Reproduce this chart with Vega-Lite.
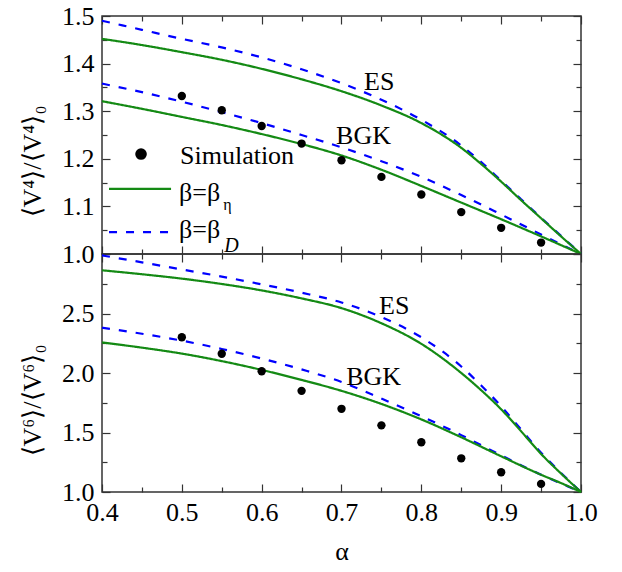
{
  "$schema": "https://vega.github.io/schema/vega-lite/v6.json",
  "padding": {"left": 18, "top": 2, "right": 5, "bottom": 5},
  "background": "white",
  "spacing": 0,
  "bounds": "flush",
  "config": {
    "view": {"stroke": "#333333", "strokeWidth": 1.5},
    "axis": {
      "labelFont": "Liberation Serif",
      "labelFontSize": 26,
      "labelColor": "black",
      "titleFont": "Liberation Serif",
      "titleFontSize": 26,
      "titleFontWeight": "normal",
      "titleColor": "black",
      "tickColor": "#333333",
      "tickWidth": 1.2,
      "domain": false,
      "grid": false,
      "labelOverlap": false,
      "labelFlush": false
    }
  },
  "datasets": {
    "curves_top": [
      {"a":0.4,"v":1.490,"model":"ES","beta":"D"},{"a":0.45,"v":1.471,"model":"ES","beta":"D"},{"a":0.5,"v":1.452,"model":"ES","beta":"D"},{"a":0.55,"v":1.434,"model":"ES","beta":"D"},{"a":0.6,"v":1.413,"model":"ES","beta":"D"},{"a":0.65,"v":1.388,"model":"ES","beta":"D"},{"a":0.7,"v":1.359,"model":"ES","beta":"D"},{"a":0.75,"v":1.324,"model":"ES","beta":"D"},{"a":0.8,"v":1.282,"model":"ES","beta":"D"},{"a":0.85,"v":1.228,"model":"ES","beta":"D"},{"a":0.875,"v":1.193,"model":"ES","beta":"D"},{"a":0.9,"v":1.154,"model":"ES","beta":"D"},{"a":0.925,"v":1.115,"model":"ES","beta":"D"},{"a":0.95,"v":1.076,"model":"ES","beta":"D"},{"a":0.975,"v":1.038,"model":"ES","beta":"D"},{"a":1.0,"v":1.0,"model":"ES","beta":"D"},
      {"a":0.4,"v":1.358,"model":"BGK","beta":"D"},{"a":0.45,"v":1.340,"model":"BGK","beta":"D"},{"a":0.5,"v":1.320,"model":"BGK","beta":"D"},{"a":0.55,"v":1.298,"model":"BGK","beta":"D"},{"a":0.6,"v":1.275,"model":"BGK","beta":"D"},{"a":0.65,"v":1.250,"model":"BGK","beta":"D"},{"a":0.7,"v":1.224,"model":"BGK","beta":"D"},{"a":0.75,"v":1.195,"model":"BGK","beta":"D"},{"a":0.8,"v":1.162,"model":"BGK","beta":"D"},{"a":0.85,"v":1.124,"model":"BGK","beta":"D"},{"a":0.9,"v":1.083,"model":"BGK","beta":"D"},{"a":0.95,"v":1.041,"model":"BGK","beta":"D"},{"a":1.0,"v":1.0,"model":"BGK","beta":"D"},
      {"a":0.4,"v":1.452,"model":"ES","beta":"eta"},{"a":0.45,"v":1.439,"model":"ES","beta":"eta"},{"a":0.5,"v":1.424,"model":"ES","beta":"eta"},{"a":0.55,"v":1.408,"model":"ES","beta":"eta"},{"a":0.6,"v":1.389,"model":"ES","beta":"eta"},{"a":0.65,"v":1.367,"model":"ES","beta":"eta"},{"a":0.7,"v":1.342,"model":"ES","beta":"eta"},{"a":0.75,"v":1.312,"model":"ES","beta":"eta"},{"a":0.8,"v":1.275,"model":"ES","beta":"eta"},{"a":0.85,"v":1.223,"model":"ES","beta":"eta"},{"a":0.875,"v":1.189,"model":"ES","beta":"eta"},{"a":0.9,"v":1.152,"model":"ES","beta":"eta"},{"a":0.925,"v":1.113,"model":"ES","beta":"eta"},{"a":0.95,"v":1.075,"model":"ES","beta":"eta"},{"a":0.975,"v":1.037,"model":"ES","beta":"eta"},{"a":1.0,"v":1.0,"model":"ES","beta":"eta"},
      {"a":0.4,"v":1.321,"model":"BGK","beta":"eta"},{"a":0.45,"v":1.305,"model":"BGK","beta":"eta"},{"a":0.5,"v":1.288,"model":"BGK","beta":"eta"},{"a":0.55,"v":1.271,"model":"BGK","beta":"eta"},{"a":0.6,"v":1.252,"model":"BGK","beta":"eta"},{"a":0.65,"v":1.231,"model":"BGK","beta":"eta"},{"a":0.7,"v":1.207,"model":"BGK","beta":"eta"},{"a":0.75,"v":1.177,"model":"BGK","beta":"eta"},{"a":0.8,"v":1.143,"model":"BGK","beta":"eta"},{"a":0.85,"v":1.108,"model":"BGK","beta":"eta"},{"a":0.9,"v":1.073,"model":"BGK","beta":"eta"},{"a":0.95,"v":1.037,"model":"BGK","beta":"eta"},{"a":1.0,"v":1.0,"model":"BGK","beta":"eta"}
    ],
    "curves_bot": [
      {"a":0.4,"v":2.988,"model":"ES","beta":"D"},{"a":0.45,"v":2.930,"model":"ES","beta":"D"},{"a":0.5,"v":2.870,"model":"ES","beta":"D"},{"a":0.55,"v":2.810,"model":"ES","beta":"D"},{"a":0.6,"v":2.745,"model":"ES","beta":"D"},{"a":0.65,"v":2.675,"model":"ES","beta":"D"},{"a":0.7,"v":2.593,"model":"ES","beta":"D"},{"a":0.75,"v":2.470,"model":"ES","beta":"D"},{"a":0.8,"v":2.300,"model":"ES","beta":"D"},{"a":0.85,"v":2.055,"model":"ES","beta":"D"},{"a":0.875,"v":1.895,"model":"ES","beta":"D"},{"a":0.9,"v":1.720,"model":"ES","beta":"D"},{"a":0.925,"v":1.525,"model":"ES","beta":"D"},{"a":0.95,"v":1.330,"model":"ES","beta":"D"},{"a":0.975,"v":1.160,"model":"ES","beta":"D"},{"a":1.0,"v":1.0,"model":"ES","beta":"D"},
      {"a":0.4,"v":2.380,"model":"BGK","beta":"D"},{"a":0.45,"v":2.330,"model":"BGK","beta":"D"},{"a":0.5,"v":2.272,"model":"BGK","beta":"D"},{"a":0.55,"v":2.202,"model":"BGK","beta":"D"},{"a":0.6,"v":2.122,"model":"BGK","beta":"D"},{"a":0.65,"v":2.030,"model":"BGK","beta":"D"},{"a":0.7,"v":1.925,"model":"BGK","beta":"D"},{"a":0.75,"v":1.785,"model":"BGK","beta":"D"},{"a":0.8,"v":1.637,"model":"BGK","beta":"D"},{"a":0.85,"v":1.478,"model":"BGK","beta":"D"},{"a":0.9,"v":1.308,"model":"BGK","beta":"D"},{"a":0.95,"v":1.145,"model":"BGK","beta":"D"},{"a":0.975,"v":1.072,"model":"BGK","beta":"D"},{"a":1.0,"v":1.0,"model":"BGK","beta":"D"},
      {"a":0.4,"v":2.863,"model":"ES","beta":"eta"},{"a":0.45,"v":2.830,"model":"ES","beta":"eta"},{"a":0.5,"v":2.793,"model":"ES","beta":"eta"},{"a":0.55,"v":2.748,"model":"ES","beta":"eta"},{"a":0.6,"v":2.694,"model":"ES","beta":"eta"},{"a":0.65,"v":2.627,"model":"ES","beta":"eta"},{"a":0.7,"v":2.545,"model":"ES","beta":"eta"},{"a":0.75,"v":2.418,"model":"ES","beta":"eta"},{"a":0.8,"v":2.245,"model":"ES","beta":"eta"},{"a":0.85,"v":2.000,"model":"ES","beta":"eta"},{"a":0.875,"v":1.855,"model":"ES","beta":"eta"},{"a":0.9,"v":1.695,"model":"ES","beta":"eta"},{"a":0.925,"v":1.510,"model":"ES","beta":"eta"},{"a":0.95,"v":1.320,"model":"ES","beta":"eta"},{"a":0.975,"v":1.155,"model":"ES","beta":"eta"},{"a":1.0,"v":1.0,"model":"ES","beta":"eta"},
      {"a":0.4,"v":2.257,"model":"BGK","beta":"eta"},{"a":0.45,"v":2.213,"model":"BGK","beta":"eta"},{"a":0.5,"v":2.163,"model":"BGK","beta":"eta"},{"a":0.55,"v":2.100,"model":"BGK","beta":"eta"},{"a":0.6,"v":2.026,"model":"BGK","beta":"eta"},{"a":0.65,"v":1.942,"model":"BGK","beta":"eta"},{"a":0.7,"v":1.850,"model":"BGK","beta":"eta"},{"a":0.75,"v":1.740,"model":"BGK","beta":"eta"},{"a":0.8,"v":1.610,"model":"BGK","beta":"eta"},{"a":0.85,"v":1.460,"model":"BGK","beta":"eta"},{"a":0.9,"v":1.300,"model":"BGK","beta":"eta"},{"a":0.95,"v":1.145,"model":"BGK","beta":"eta"},{"a":0.975,"v":1.075,"model":"BGK","beta":"eta"},{"a":1.0,"v":1.0,"model":"BGK","beta":"eta"}
    ],
    "sim_top": [
      {"a":0.5,"v":1.332},{"a":0.55,"v":1.302},{"a":0.6,"v":1.269},{"a":0.65,"v":1.232},{"a":0.7,"v":1.197},{"a":0.75,"v":1.162},{"a":0.8,"v":1.125},{"a":0.85,"v":1.088},{"a":0.9,"v":1.055},{"a":0.95,"v":1.024}
    ],
    "sim_bot": [
      {"a":0.5,"v":2.300},{"a":0.55,"v":2.162},{"a":0.6,"v":2.015},{"a":0.65,"v":1.850},{"a":0.7,"v":1.699},{"a":0.75,"v":1.560},{"a":0.8,"v":1.418},{"a":0.85,"v":1.283},{"a":0.9,"v":1.166},{"a":0.95,"v":1.068}
    ],
    "labels_top": [
      {"a":0.7283,"v":1.344,"t":"ES"},{"a":0.6932,"v":1.232,"t":"BGK"}
    ],
    "labels_bot": [
      {"a":0.7471,"v":2.50,"t":"ES"},{"a":0.7058,"v":1.90,"t":"BGK"}
    ],
    "legend_text": [
      {"a":0.4977,"v":1.190,"t":"Simulation"},{"a":0.4965,"v":1.112,"t":"β=β"},{"a":0.4965,"v":1.033,"t":"β=β"}
    ],
    "legend_eta": [{"a":0.552,"v":1.093,"t":"η"}],
    "legend_d": [{"a":0.553,"v":1.004,"t":"D"}],
    "legend_sym": [{"a":0.4489,"v":1.210}],
    "legend_lines": [
      {"a":0.4088,"a2":0.4865,"v":1.137,"beta":"eta"},{"a":0.4088,"a2":0.4865,"v":1.046,"beta":"D"}
    ]
  },
  "vconcat": [
    {
      "width": 479,
      "height": 238,
      "resolve": {"axis": {"x": "independent", "y": "independent"}},
      "layer": [
        {
          "data": {"name": "curves_top"},
          "mark": {"type": "line", "strokeWidth": 2.2, "interpolate": "monotone"},
          "encoding": {
            "x": {"field": "a", "type": "quantitative", "scale": {"domain": [0.4, 1.0], "nice": false, "zero": false},
              "axis": {"orient": "bottom", "title": null, "labels": false,
                "values": [0.4,0.45,0.5,0.55,0.6,0.65,0.7,0.75,0.8,0.85,0.9,0.95,1.0],
                "tickSize": {"condition": {"test": "abs(datum.value*10-round(datum.value*10))<0.001", "value": -8}, "value": -5}}},
            "y": {"field": "v", "type": "quantitative", "scale": {"domain": [1.0, 1.5], "nice": false, "zero": false},
              "axis": {"orient": "left", "title": "⟨V⁴⟩/⟨V⁴⟩₀", "titleY": 145, "titlePadding": 16,
                "values": [1.0,1.05,1.1,1.15,1.2,1.25,1.3,1.35,1.4,1.45,1.5],
                "labelExpr": "abs(datum.value*10-round(datum.value*10))<0.001 ? format(datum.value, '.1f') : ''",
                "labelPadding": 16,
                "tickSize": {"condition": {"test": "abs(datum.value*10-round(datum.value*10))<0.001", "value": -8}, "value": -5}}},
            "color": {"field": "beta", "type": "nominal", "scale": {"domain": ["eta", "D"], "range": ["#148a14", "#0000ff"]}, "legend": null},
            "strokeDash": {"field": "beta", "type": "nominal", "scale": {"domain": ["eta", "D"], "range": [[1, 0], [8, 9]]}, "legend": null},
            "detail": {"field": "model"}
          }
        },
        {
          "data": {"name": "sim_top"},
          "mark": {"type": "circle", "size": 70, "color": "black", "opacity": 1},
          "encoding": {
            "x": {"field": "a", "type": "quantitative",
              "axis": {"orient": "top", "title": null, "labels": false,
                "values": [0.4,0.45,0.5,0.55,0.6,0.65,0.7,0.75,0.8,0.85,0.9,0.95,1.0],
                "tickSize": {"condition": {"test": "abs(datum.value*10-round(datum.value*10))<0.001", "value": -8}, "value": -5}}},
            "y": {"field": "v", "type": "quantitative",
              "axis": {"orient": "right", "title": null, "labels": false,
                "values": [1.0,1.05,1.1,1.15,1.2,1.25,1.3,1.35,1.4,1.45,1.5],
                "tickSize": {"condition": {"test": "abs(datum.value*10-round(datum.value*10))<0.001", "value": -8}, "value": -5}}}
          }
        },
        {
          "data": {"name": "labels_top"},
          "mark": {"type": "text", "font": "Liberation Serif", "fontSize": 26, "align": "left", "baseline": "alphabetic", "color": "black"},
          "encoding": {
            "x": {"field": "a", "type": "quantitative", "axis": null},
            "y": {"field": "v", "type": "quantitative", "axis": null},
            "text": {"field": "t"}
          }
        },
        {
          "data": {"name": "legend_text"},
          "mark": {"type": "text", "font": "Liberation Serif", "fontSize": 26, "align": "left", "baseline": "alphabetic", "color": "black"},
          "encoding": {
            "x": {"field": "a", "type": "quantitative", "axis": null},
            "y": {"field": "v", "type": "quantitative", "axis": null},
            "text": {"field": "t"}
          }
        },
        {
          "data": {"name": "legend_eta"},
          "mark": {"type": "text", "font": "Liberation Serif", "fontSize": 16, "align": "left", "baseline": "alphabetic", "color": "black"},
          "encoding": {
            "x": {"field": "a", "type": "quantitative", "axis": null},
            "y": {"field": "v", "type": "quantitative", "axis": null},
            "text": {"field": "t"}
          }
        },
        {
          "data": {"name": "legend_d"},
          "mark": {"type": "text", "font": "Liberation Serif", "fontSize": 20, "fontStyle": "italic", "align": "left", "baseline": "alphabetic", "color": "black"},
          "encoding": {
            "x": {"field": "a", "type": "quantitative", "axis": null},
            "y": {"field": "v", "type": "quantitative", "axis": null},
            "text": {"field": "t"}
          }
        },
        {
          "data": {"name": "legend_sym"},
          "mark": {"type": "circle", "size": 135, "color": "black", "opacity": 1},
          "encoding": {
            "x": {"field": "a", "type": "quantitative", "axis": null},
            "y": {"field": "v", "type": "quantitative", "axis": null}
          }
        },
        {
          "data": {"name": "legend_lines"},
          "mark": {"type": "rule", "strokeWidth": 2.2},
          "encoding": {
            "x": {"field": "a", "type": "quantitative", "axis": null},
            "x2": {"field": "a2"},
            "y": {"field": "v", "type": "quantitative", "axis": null},
            "color": {"field": "beta", "type": "nominal", "legend": null},
            "strokeDash": {"field": "beta", "type": "nominal", "legend": null}
          }
        }
      ]
    },
    {
      "width": 479,
      "height": 238,
      "resolve": {"axis": {"x": "independent", "y": "independent"}},
      "layer": [
        {
          "data": {"name": "curves_bot"},
          "mark": {"type": "line", "strokeWidth": 2.2, "interpolate": "monotone"},
          "encoding": {
            "x": {"field": "a", "type": "quantitative", "scale": {"domain": [0.4, 1.0], "nice": false, "zero": false},
              "axis": {"orient": "bottom", "title": "α", "titlePadding": 10,
                "values": [0.4,0.45,0.5,0.55,0.6,0.65,0.7,0.75,0.8,0.85,0.9,0.95,1.0],
                "labelExpr": "abs(datum.value*10-round(datum.value*10))<0.001 ? format(datum.value, '.1f') : ''",
                "labelPadding": 15,
                "tickSize": {"condition": {"test": "abs(datum.value*10-round(datum.value*10))<0.001", "value": -8}, "value": -5}}},
            "y": {"field": "v", "type": "quantitative", "scale": {"domain": [1.0, 3.0], "nice": false, "zero": false},
              "axis": {"orient": "left", "title": "⟨V⁶⟩/⟨V⁶⟩₀", "titleY": 146, "titlePadding": 16,
                "values": [1.0,1.25,1.5,1.75,2.0,2.25,2.5,2.75,3.0],
                "labelExpr": "abs(datum.value*2-round(datum.value*2))<0.001 && datum.value<2.9 ? format(datum.value, '.1f') : ''",
                "labelPadding": 16,
                "tickSize": {"condition": {"test": "abs(datum.value*2-round(datum.value*2))<0.001", "value": -8}, "value": -5}}},
            "color": {"field": "beta", "type": "nominal", "scale": {"domain": ["eta", "D"], "range": ["#148a14", "#0000ff"]}, "legend": null},
            "strokeDash": {"field": "beta", "type": "nominal", "scale": {"domain": ["eta", "D"], "range": [[1, 0], [8, 9]]}, "legend": null},
            "detail": {"field": "model"}
          }
        },
        {
          "data": {"name": "sim_bot"},
          "mark": {"type": "circle", "size": 70, "color": "black", "opacity": 1},
          "encoding": {
            "x": {"field": "a", "type": "quantitative",
              "axis": {"orient": "top", "title": null, "labels": false,
                "values": [0.4,0.45,0.5,0.55,0.6,0.65,0.7,0.75,0.8,0.85,0.9,0.95,1.0],
                "tickSize": {"condition": {"test": "abs(datum.value*10-round(datum.value*10))<0.001", "value": -8}, "value": -5}}},
            "y": {"field": "v", "type": "quantitative",
              "axis": {"orient": "right", "title": null, "labels": false,
                "values": [1.0,1.25,1.5,1.75,2.0,2.25,2.5,2.75,3.0],
                "tickSize": {"condition": {"test": "abs(datum.value*2-round(datum.value*2))<0.001", "value": -8}, "value": -5}}}
          }
        },
        {
          "data": {"name": "labels_bot"},
          "mark": {"type": "text", "font": "Liberation Serif", "fontSize": 26, "align": "left", "baseline": "alphabetic", "color": "black"},
          "encoding": {
            "x": {"field": "a", "type": "quantitative", "axis": null},
            "y": {"field": "v", "type": "quantitative", "axis": null},
            "text": {"field": "t"}
          }
        }
      ]
    }
  ]
}
